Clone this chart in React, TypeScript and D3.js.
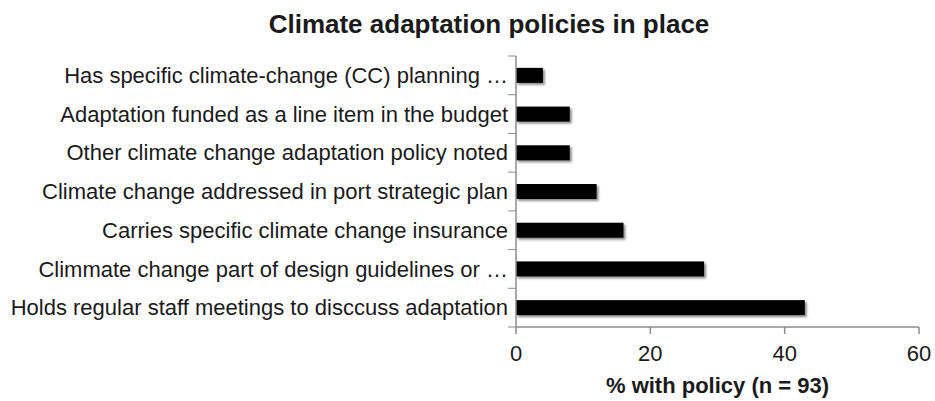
import React from "react";
import * as d3 from "d3";

const categories = [
  "Has specific climate-change (CC) planning …",
  "Adaptation funded as a line item in the budget",
  "Other climate change adaptation policy noted",
  "Climate change addressed in port strategic plan",
  "Carries specific climate change insurance",
  "Climmate change part of design guidelines or …",
  "Holds regular staff meetings to disccuss adaptation",
];
const values = [4, 8, 8, 12, 16, 28, 43];
const xTicks = [0, 20, 40, 60];
const title = "Climate adaptation policies in place";
const xTitle = "% with policy (n = 93)";

export default function App() {
  const W = 935, H = 401;
  const left = 516, right = 919, top = 56, bottom = 327;
  const x = d3.scaleLinear().domain([0, 60]).range([left, right]);
  const y = d3.scaleBand<string>().domain(categories).range([top, bottom]).paddingInner(0).paddingOuter(0);
  const bw = y.bandwidth();
  const barH = 15;
  const font = "'Liberation Sans', Arial, Helvetica, sans-serif";
  const axisColor = "#8c8c8c";
  const bounds = categories.map((_, i) => top + i * bw).concat([bottom]);
  return (
    <svg width={W} height={H} style={{ position: "absolute", left: 0, top: 0 }} fontFamily={font}>
      <defs>
        <filter id="sh" x="-10%" y="-50%" width="120%" height="200%">
          <feDropShadow dx="2" dy="2" stdDeviation="1.2" floodColor="#000" floodOpacity="0.45" />
        </filter>
      </defs>
      <rect width={W} height={H} fill="#fff" />
      <text x={489} y={33} textAnchor="middle" fontSize={26} fontWeight="bold" fill="#1a1a1a">{title}</text>
      {categories.map((c, i) => (
        <g key={c}>
          <rect x={x(0)} y={(y(c) as number) + bw / 2 - barH / 2} width={x(values[i]) - x(0)} height={barH} fill="#000" filter="url(#sh)" />
          <text x={508} y={(y(c) as number) + bw / 2} dy="0.35em" textAnchor="end" fontSize={22} fill="#1a1a1a">{c}</text>
        </g>
      ))}
      <line x1={left} x2={left} y1={top} y2={bottom} stroke={axisColor} strokeWidth={1.5} />
      {bounds.map((b, i) => (
        <line key={i} x1={left - 8} x2={left} y1={b} y2={b} stroke={axisColor} strokeWidth={1} />
      ))}
      <line x1={left} x2={right} y1={bottom} y2={bottom} stroke={axisColor} strokeWidth={1.5} />
      {xTicks.map((t) => (
        <g key={t}>
          <line x1={x(t)} x2={x(t)} y1={bottom} y2={bottom + 7} stroke={axisColor} strokeWidth={1.5} />
          <text x={x(t)} y={361} textAnchor="middle" fontSize={22} fill="#1a1a1a">{t}</text>
        </g>
      ))}
      <text x={(left + right) / 2} y={393} textAnchor="middle" fontSize={22} fontWeight="bold" fill="#1a1a1a">{xTitle}</text>
    </svg>
  );
}
